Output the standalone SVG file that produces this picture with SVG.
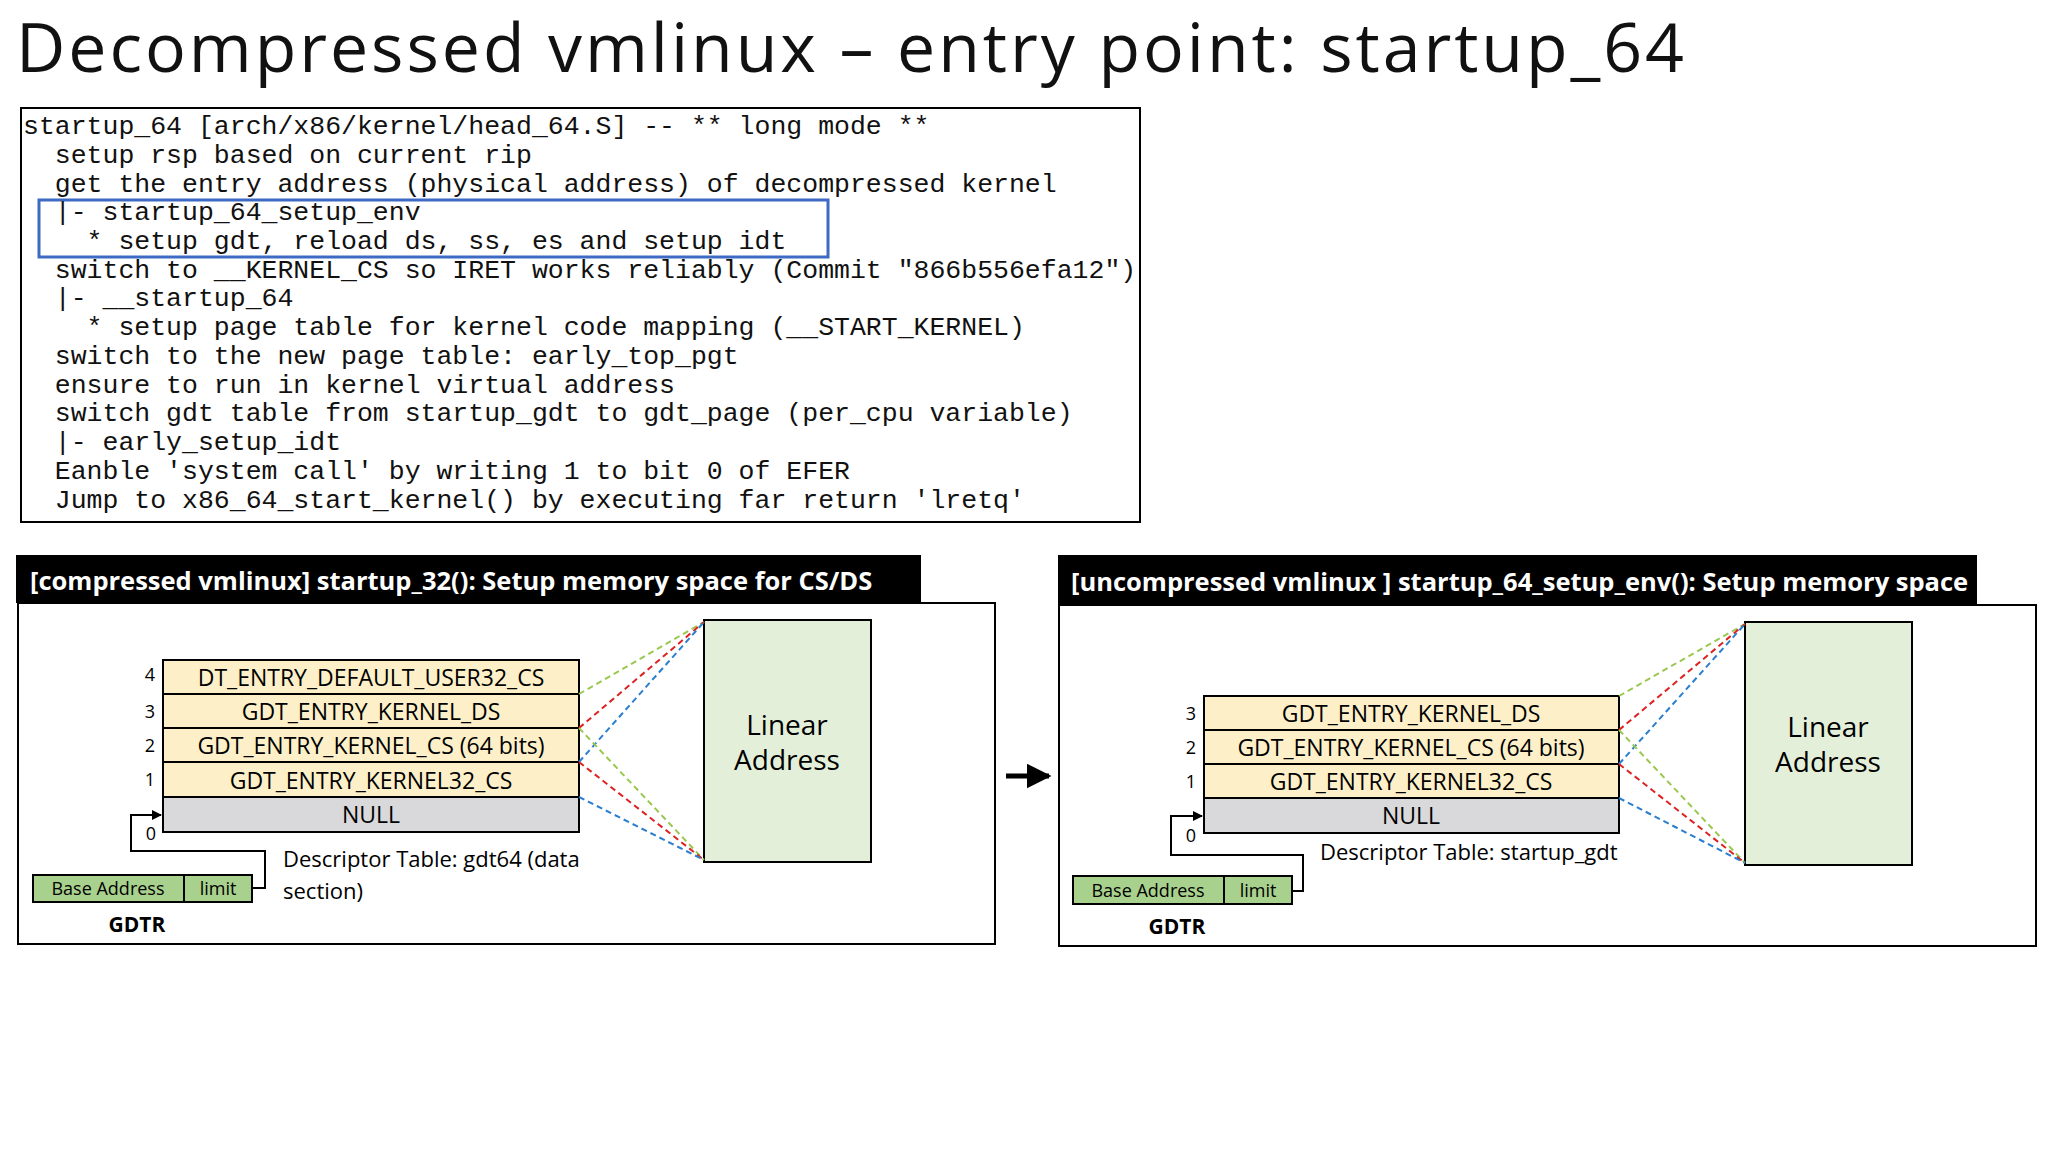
<svg xmlns="http://www.w3.org/2000/svg" width="2048" height="1152" viewBox="0 0 2048 1152">
<defs>
<style>
.code{font-family:"Liberation Mono",monospace;font-size:26.5px;fill:#111}
.s{font-family:"Open Sans","Noto Sans",sans-serif;fill:#000;font-size:22px}
.row{stroke:#000;stroke-width:2;fill:#fdf0c8}
.null{stroke:#000;stroke-width:2;fill:#d9d9db}
.rt{font-family:"Open Sans",sans-serif;font-size:23px;text-anchor:middle}
.la{font-family:"Open Sans",sans-serif;font-size:28px;text-anchor:middle}
.ba{font-family:"Open Sans",sans-serif;font-size:18px;text-anchor:middle}
.gd{font-family:"Open Sans",sans-serif;font-size:21px;font-weight:bold;text-anchor:middle}
.num{font-family:"Open Sans",sans-serif;font-size:18px;text-anchor:middle}
.hd{font-family:"Open Sans",sans-serif;font-size:25.5px;font-weight:bold;fill:#fff}
.g{stroke:#9ac84f;stroke-width:2;stroke-dasharray:6,4;fill:none}
.r{stroke:#d22;stroke-width:2;stroke-dasharray:6,4;fill:none}
.b{stroke:#2a7fd0;stroke-width:2;stroke-dasharray:6,4;fill:none}
.ln{stroke:#000;stroke-width:2;fill:none}
</style>
<marker id="ar" viewBox="0 0 10 10" refX="9" refY="5" markerWidth="5" markerHeight="5" orient="auto"><path d="M0,0L10,5L0,10z" fill="#000"/></marker>
</defs>
<rect width="2048" height="1152" fill="#fff"/>
<text x="16" y="72" font-family="Open Sans,sans-serif" font-size="68" textLength="1668" fill="#111">Decompressed vmlinux – entry point: startup_64</text>

<g id="code">
<rect x="21" y="108" width="1119" height="414" fill="#fff" stroke="#000" stroke-width="2"/>
<rect x="39" y="200" width="789" height="57" fill="none" stroke="#3d6bc4" stroke-width="3"/>
<text class="code" x="23" y="134">startup_64 [arch/x86/kernel/head_64.S] -- ** long mode **</text>
<text class="code" x="23" y="163" xml:space="preserve">  setup rsp based on current rip</text>
<text class="code" x="23" y="192" xml:space="preserve">  get the entry address (physical address) of decompressed kernel</text>
<text class="code" x="23" y="220" xml:space="preserve">  |- startup_64_setup_env</text>
<text class="code" x="23" y="249" xml:space="preserve">    * setup gdt, reload ds, ss, es and setup idt</text>
<text class="code" x="23" y="278" xml:space="preserve">  switch to __KERNEL_CS so IRET works reliably (Commit "866b556efa12")</text>
<text class="code" x="23" y="306" xml:space="preserve">  |- __startup_64</text>
<text class="code" x="23" y="335" xml:space="preserve">    * setup page table for kernel code mapping (__START_KERNEL)</text>
<text class="code" x="23" y="364" xml:space="preserve">  switch to the new page table: early_top_pgt</text>
<text class="code" x="23" y="393" xml:space="preserve">  ensure to run in kernel virtual address</text>
<text class="code" x="23" y="421" xml:space="preserve">  switch gdt table from startup_gdt to gdt_page (per_cpu variable)</text>
<text class="code" x="23" y="450" xml:space="preserve">  |- early_setup_idt</text>
<text class="code" x="23" y="479" xml:space="preserve">  Eanble 'system call' by writing 1 to bit 0 of EFER</text>
<text class="code" x="23" y="508" xml:space="preserve">  Jump to x86_64_start_kernel() by executing far return 'lretq'</text>
</g>

<g id="left">
<rect x="18" y="603" width="977" height="341" fill="#fff" stroke="#000" stroke-width="2"/>
<rect x="16" y="555" width="905" height="48" fill="#000"/>
<text class="hd" x="30" y="590">[compressed vmlinux] startup_32(): Setup memory space for CS/DS</text>
<rect class="row" x="163" y="660" width="416" height="34"/>
<rect class="row" x="163" y="694" width="416" height="34"/>
<rect class="row" x="163" y="728" width="416" height="34"/>
<rect class="row" x="163" y="762" width="416" height="35"/>
<rect class="null" x="163" y="797" width="416" height="35"/>
<text class="rt" x="371" y="686">DT_ENTRY_DEFAULT_USER32_CS</text>
<text class="rt" x="371" y="720">GDT_ENTRY_KERNEL_DS</text>
<text class="rt" x="371" y="754">GDT_ENTRY_KERNEL_CS (64 bits)</text>
<text class="rt" x="371" y="789">GDT_ENTRY_KERNEL32_CS</text>
<text class="rt" x="371" y="823">NULL</text>
<text class="num" x="150" y="681">4</text>
<text class="num" x="150" y="718">3</text>
<text class="num" x="150" y="752">2</text>
<text class="num" x="150" y="786">1</text>
<text class="num" x="151" y="840">0</text>
<rect x="704" y="620" width="167" height="242" fill="#e4efd9" stroke="#000" stroke-width="2"/>
<text class="la" x="787" y="735">Linear</text>
<text class="la" x="787" y="770">Address</text>
<rect x="33" y="875" width="151" height="27" fill="#a9d18e" stroke="#000" stroke-width="2"/>
<rect x="184" y="875" width="68" height="27" fill="#a9d18e" stroke="#000" stroke-width="2"/>
<text class="ba" x="108" y="895">Base Address</text>
<text class="ba" x="218" y="895">limit</text>
<text class="gd" x="137" y="932">GDTR</text>
<text class="s" x="283" y="867">Descriptor Table: gdt64 (data</text>
<text class="s" x="283" y="899">section)</text>
</g>

<g id="right">
<rect x="1059" y="605" width="977" height="341" fill="#fff" stroke="#000" stroke-width="2"/>
<rect x="1058" y="555" width="919" height="50" fill="#000"/>
<text class="hd" x="1071" y="591">[uncompressed vmlinux ] startup_64_setup_env(): Setup memory space</text>
<rect class="row" x="1204" y="696" width="415" height="34"/>
<rect class="row" x="1204" y="730" width="415" height="34"/>
<rect class="row" x="1204" y="764" width="415" height="34"/>
<rect class="null" x="1204" y="798" width="415" height="35"/>
<text class="rt" x="1411" y="722">GDT_ENTRY_KERNEL_DS</text>
<text class="rt" x="1411" y="756">GDT_ENTRY_KERNEL_CS (64 bits)</text>
<text class="rt" x="1411" y="790">GDT_ENTRY_KERNEL32_CS</text>
<text class="rt" x="1411" y="824">NULL</text>
<text class="num" x="1191" y="720">3</text>
<text class="num" x="1191" y="754">2</text>
<text class="num" x="1191" y="788">1</text>
<text class="num" x="1191" y="842">0</text>
<rect x="1745" y="622" width="167" height="243" fill="#e4efd9" stroke="#000" stroke-width="2"/>
<text class="la" x="1828" y="737">Linear</text>
<text class="la" x="1828" y="772">Address</text>
<rect x="1073" y="876" width="151" height="28" fill="#a9d18e" stroke="#000" stroke-width="2"/>
<rect x="1224" y="876" width="68" height="28" fill="#a9d18e" stroke="#000" stroke-width="2"/>
<text class="ba" x="1148" y="897">Base Address</text>
<text class="ba" x="1258" y="897">limit</text>
<text class="gd" x="1177" y="934">GDTR</text>
<text class="s" x="1320" y="860">Descriptor Table: startup_gdt</text>
</g>

<g id="connectors">
<polyline class="ln" points="252,888 265,888 265,851 131,851 131,815 161,815" marker-end="url(#ar)"/>
<polyline class="ln" points="1292,891 1303,891 1303,855 1171,855 1171,816 1202,816" marker-end="url(#ar)"/>
<line x1="1006" y1="776" x2="1049" y2="776" stroke="#000" stroke-width="5" marker-end="url(#ar)"/>
<line class="g" x1="579" y1="694" x2="704" y2="622"/>
<line class="r" x1="579" y1="728" x2="704" y2="622"/>
<line class="b" x1="579" y1="762" x2="704" y2="622"/>
<line class="g" x1="579" y1="728" x2="704" y2="860"/>
<line class="r" x1="579" y1="762" x2="704" y2="860"/>
<line class="b" x1="579" y1="797" x2="704" y2="860"/>
<line class="g" x1="1619" y1="696" x2="1745" y2="624"/>
<line class="r" x1="1619" y1="730" x2="1745" y2="624"/>
<line class="b" x1="1619" y1="764" x2="1745" y2="624"/>
<line class="g" x1="1619" y1="730" x2="1745" y2="863"/>
<line class="r" x1="1619" y1="764" x2="1745" y2="863"/>
<line class="b" x1="1619" y1="798" x2="1745" y2="863"/>
</g>
</svg>
